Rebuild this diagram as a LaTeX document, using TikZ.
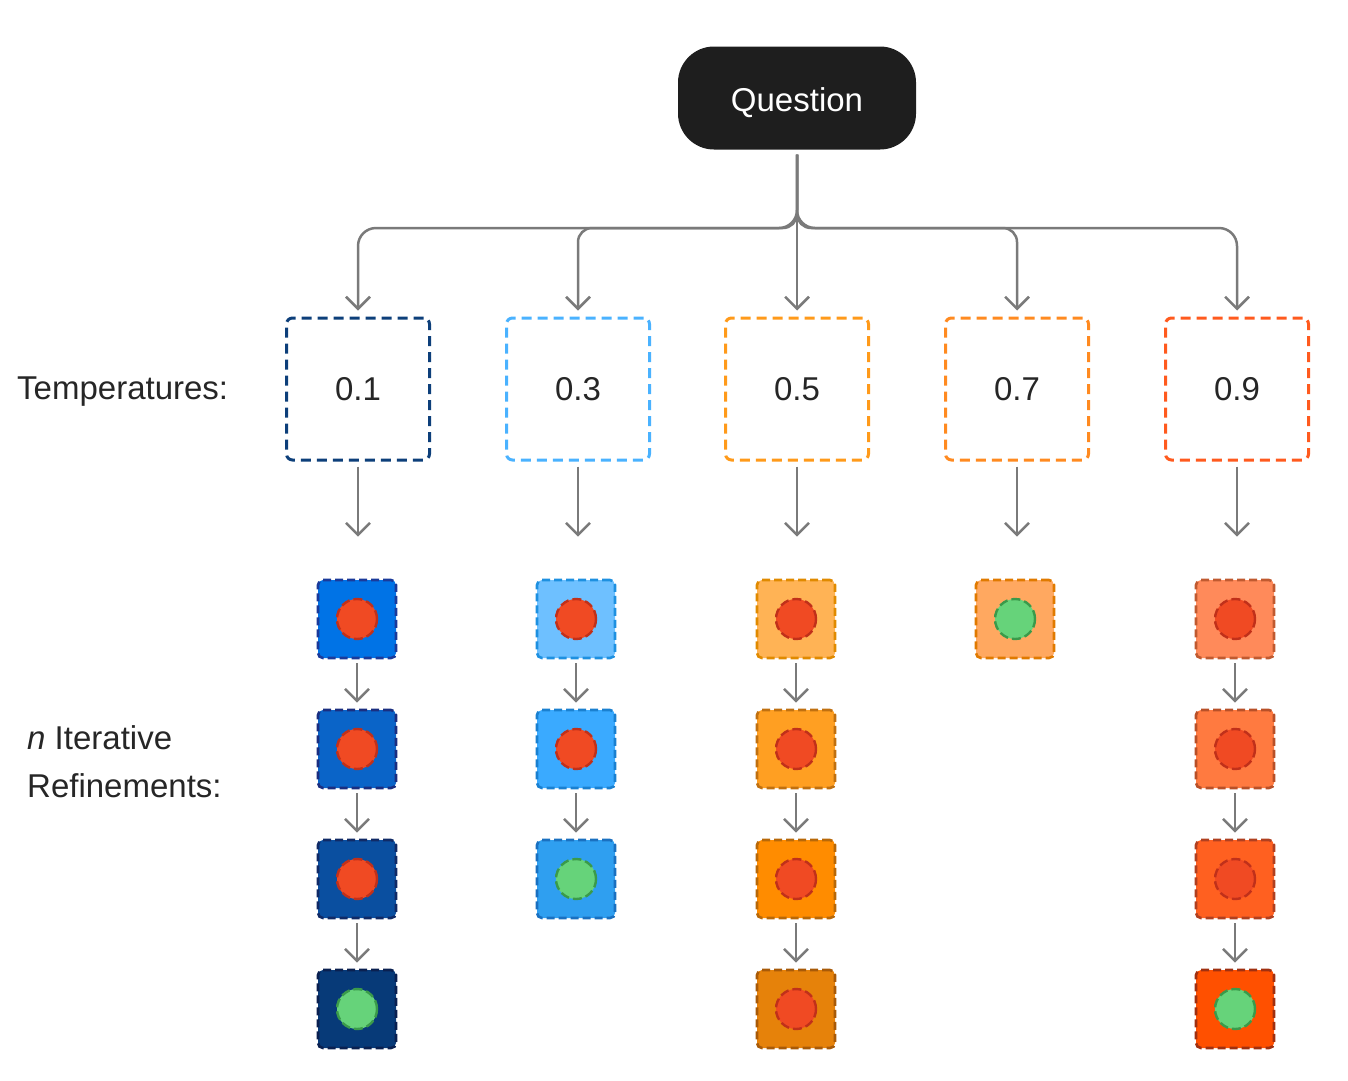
\documentclass[tikz,border=0pt]{standalone}
\usepackage{fontspec}
\setmainfont{Liberation Sans}
\usetikzlibrary{arrows.meta}
\definecolor{qfill}{HTML}{1E1E1E}
\definecolor{conncol}{HTML}{7A7A7A}
\definecolor{txt}{HTML}{262626}
\definecolor{tA}{HTML}{0D3F7A}
\definecolor{tB}{HTML}{4AB2FF}
\definecolor{tC}{HTML}{FF9A1A}
\definecolor{tD}{HTML}{FF8A20}
\definecolor{tE}{HTML}{FF5A1E}
% small squares fill / border
\definecolor{a1}{HTML}{0073E6}\definecolor{a1b}{HTML}{1A3A9A}
\definecolor{a2}{HTML}{0A64C8}\definecolor{a2b}{HTML}{1A2E80}
\definecolor{a3}{HTML}{0A4FA0}\definecolor{a3b}{HTML}{102A66}
\definecolor{a4}{HTML}{073A78}\definecolor{a4b}{HTML}{0A2050}
\definecolor{b1}{HTML}{6EC0FF}\definecolor{b1b}{HTML}{1E90E0}
\definecolor{b2}{HTML}{3AAAFF}\definecolor{b2b}{HTML}{1A80D0}
\definecolor{b3}{HTML}{2F9FF0}\definecolor{b3b}{HTML}{1A70C0}
\definecolor{c1}{HTML}{FFB355}\definecolor{c1b}{HTML}{E08A00}
\definecolor{c2}{HTML}{FF9F22}\definecolor{c2b}{HTML}{C07010}
\definecolor{c3}{HTML}{FF8C00}\definecolor{c3b}{HTML}{B86808}
\definecolor{c4}{HTML}{E6820A}\definecolor{c4b}{HTML}{A85A08}
\definecolor{d1}{HTML}{FFA860}\definecolor{d1b}{HTML}{E07A00}
\definecolor{e1}{HTML}{FF8A5A}\definecolor{e1b}{HTML}{C05A30}
\definecolor{e2}{HTML}{FF7A40}\definecolor{e2b}{HTML}{B85028}
\definecolor{e3}{HTML}{FF6020}\definecolor{e3b}{HTML}{B04020}
\definecolor{e4}{HTML}{FF5000}\definecolor{e4b}{HTML}{A03010}
\definecolor{redc}{HTML}{F04A23}\definecolor{redb}{HTML}{C0301A}
\definecolor{grnc}{HTML}{66D37A}\definecolor{grnb}{HTML}{3A9A4A}
\tikzset{
  conn/.style={draw=conncol, line width=2.5pt, -{Straight Barb[length=12pt,width=24pt,line width=2.5pt]}},
  tempbox/.style={draw=#1, line width=3pt, dash pattern=on 10pt off 6pt, rounded corners=6pt,
     minimum width=143pt, minimum height=142pt, inner sep=0pt,
     font=\fontsize{33}{38}\selectfont, text=txt},
  sq/.style n args={2}{draw=#2, fill=#1, line width=2.6pt, dash pattern=on 8pt off 4pt, rounded corners=5pt,
     minimum width=78pt, minimum height=78pt, inner sep=0pt},
  redball/.style={circle, draw=redb, fill=redc, line width=2.4pt, dash pattern=on 9pt off 4pt, minimum size=40pt, inner sep=0pt},
  grnball/.style={circle, draw=grnb, fill=grnc, line width=2.4pt, dash pattern=on 9pt off 4pt, minimum size=40pt, inner sep=0pt},
  lbl/.style={font=\fontsize{33}{38}\selectfont, text=txt, inner sep=0pt}
}
\begin{document}
\begin{tikzpicture}[x=1pt,y=-1pt]
\useasboundingbox (0,0) rectangle (1348,1080);
% question
\node[fill=qfill, rounded corners=36pt, minimum width=238pt, minimum height=103pt, inner sep=0pt,
      text height=27pt, text depth=0pt,
      text=white, font=\fontsize{33}{38}\selectfont] (q) at (797,98) {Question};
\coordinate (bar) at (797,228);
% temperature boxes
\node[tempbox=tA] (t1) at (358,389) {\raisebox{-2pt}{0.1}};
\node[tempbox=tB] (t2) at (578,389) {\raisebox{-2pt}{0.3}};
\node[tempbox=tC] (t3) at (797,389) {\raisebox{-2pt}{0.5}};
\node[tempbox=tD] (t4) at (1017,389) {\raisebox{-2pt}{0.7}};
\node[tempbox=tE] (t5) at (1237,389) {\raisebox{-2pt}{0.9}};
% labels
\node[lbl, anchor=west] (lt) at (17,392) {Temperatures:};
\node[lbl, anchor=west] (ln1) at (27,738) {\textit{n} Iterative};
\node[lbl, anchor=west] (ln2) at (27,786) {Refinements:};
% question connectors
\draw[conn, rounded corners=18pt, shorten <=5pt, shorten >=6pt] (q.south) -- (bar) -| (t1.north);
\draw[conn, rounded corners=14pt, shorten <=5pt, shorten >=6pt] (q.south) -- (bar) -| (t2.north);
\draw[conn, shorten <=5pt, shorten >=6pt] (q.south) -- (t3.north);
\draw[conn, rounded corners=14pt, shorten <=5pt, shorten >=6pt] (q.south) -- (bar) -| (t4.north);
\draw[conn, rounded corners=18pt, shorten <=5pt, shorten >=6pt] (q.south) -- (bar) -| (t5.north);
% small squares
\node[sq={a1}{a1b}] (s11) at (357,619) {};
\node[sq={a2}{a2b}] (s12) at (357,749) {};
\node[sq={a3}{a3b}] (s13) at (357,879) {};
\node[sq={a4}{a4b}] (s14) at (357,1009) {};
\node[sq={b1}{b1b}] (s21) at (576,619) {};
\node[sq={b2}{b2b}] (s22) at (576,749) {};
\node[sq={b3}{b3b}] (s23) at (576,879) {};
\node[sq={c1}{c1b}] (s31) at (796,619) {};
\node[sq={c2}{c2b}] (s32) at (796,749) {};
\node[sq={c3}{c3b}] (s33) at (796,879) {};
\node[sq={c4}{c4b}] (s34) at (796,1009) {};
\node[sq={d1}{d1b}] (s41) at (1015,619) {};
\node[sq={e1}{e1b}] (s51) at (1235,619) {};
\node[sq={e2}{e2b}] (s52) at (1235,749) {};
\node[sq={e3}{e3b}] (s53) at (1235,879) {};
\node[sq={e4}{e4b}] (s54) at (1235,1009) {};
% balls
\node[redball] (c11) at (s11) {};
\node[redball] (c12) at (s12) {};
\node[redball] (c13) at (s13) {};
\node[grnball] (c14) at (s14) {};
\node[redball] (c21) at (s21) {};
\node[redball] (c22) at (s22) {};
\node[grnball] (c23) at (s23) {};
\node[redball] (c31) at (s31) {};
\node[redball] (c32) at (s32) {};
\node[redball] (c33) at (s33) {};
\node[redball] (c34) at (s34) {};
\node[grnball] (c41) at (s41) {};
\node[redball] (c51) at (s51) {};
\node[redball] (c52) at (s52) {};
\node[redball] (c53) at (s53) {};
\node[grnball] (c54) at (s54) {};
% temp -> first square
\foreach \i in {1,...,5}{
  \draw[conn, shorten <=5pt, shorten >=42pt] (t\i.south) -- (t\i.south |- s\i1.north);
}
% refinement arrows
\foreach \a/\b in {s11/s12, s12/s13, s13/s14, s21/s22, s22/s23, s31/s32, s32/s33, s33/s34, s51/s52, s52/s53, s53/s54}{
  \draw[conn, shorten <=4pt, shorten >=6pt] (\a.south) -- (\b.north);
}
\end{tikzpicture}
\end{document}
